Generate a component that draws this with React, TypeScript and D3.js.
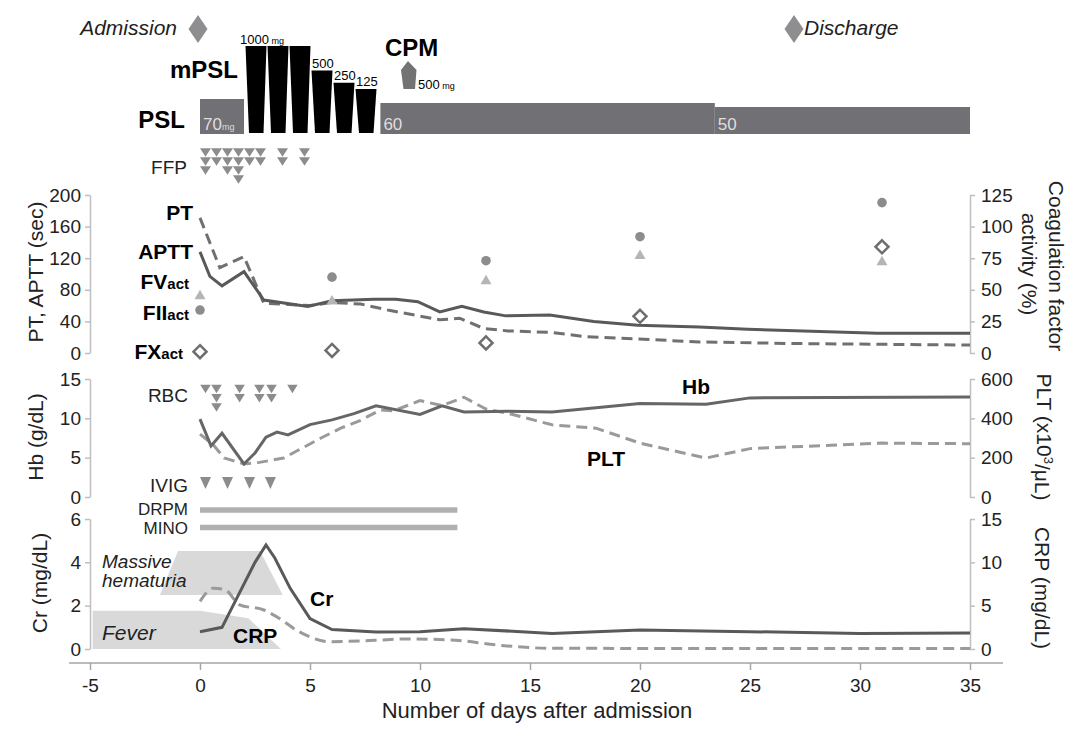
import * as d3 from "d3";
import { useEffect, useRef } from "react";

// treatment timeline (days after admission)
const admissionDay = 0;
const dischargeDay = 27;
const pslStart = [0, 8.2, 23.4];
const pslEnd = [2, 23.4, 35];
const pslDose = [70, 60, 50];
const mpslDays = [2, 3, 4, 5, 6, 7];
const mpslDose = [1000, 1000, 1000, 500, 250, 125];
const cpmDays = [9];
const cpmDose = [500];
const ffpDays = [0.25, 0.75, 1.25, 1.75, 2.25, 2.75, 3.75, 4.75];
const ffpUnits = [3, 2, 3, 4, 2, 2, 2, 2];
const rbcDays = [0.25, 0.75, 1.8, 2.7, 3.25, 4.2];
const rbcUnits = [1, 3, 2, 2, 2, 1];
const ivigDays = [0.25, 1.25, 2.25, 3.2];
const abxNames = ["DRPM", "MINO"];
const abxStart = [0, 0];
const abxEnd = [11.7, 11.7];

// coagulation
const ptDays = [0, 0.9, 2, 2.9, 5, 6, 7.3, 8.6, 10.9, 11.8, 12.9, 14, 16, 17.4, 19.7, 22.7, 27, 35];
const ptSec = [171, 108, 122, 63, 60, 64, 62, 54, 42, 44, 31, 28, 26, 21, 18, 14, 12, 10];
const apttDays = [0, 0.45, 1, 2, 2.9, 4.9, 6, 7.9, 8.9, 9.9, 10.9, 11.9, 12.9, 13.9, 15.9, 17.9, 19.9, 22.7, 24.9, 30.8, 35];
const apttSec = [128, 97, 85, 103, 67, 59, 66, 68, 68, 65, 52, 59, 52, 47, 48, 40, 35, 33, 30, 25, 25];
const factorDays = [0, 6, 13, 20, 31];
const fIIact = [34, 60, 73, 92, 119];
const fVact = [46, 42, 58, 78, 73];
const fXact = [1, 2, 8, 29, 84];

// blood counts
const hbDays = [0, 0.5, 1, 2, 2.5, 3, 3.5, 4, 5, 6, 7, 8, 10, 11, 12, 14, 16, 20, 23, 25, 35];
const hbVal = [9.9, 6.5, 8.1, 4.2, 5.6, 7.6, 8.25, 7.9, 9.2, 9.8, 10.6, 11.6, 10.5, 11.6, 10.8, 10.9, 10.8, 11.9, 11.8, 12.6, 12.7];
const pltDays = [0, 0.6, 1.1, 2, 2.7, 3.8, 4.5, 5.5, 6.4, 7.3, 8.2, 8.8, 10, 11, 12, 13, 14, 16, 18, 20, 23, 25, 31, 35];
const pltVal = [320, 266, 198, 168, 176, 198, 240, 300, 350, 390, 443, 438, 490, 465, 507, 447, 426, 367, 350, 274, 198, 246, 274, 271];

// renal / inflammation
const crDays = [0, 1, 1.8, 2.5, 3, 3.4, 4.1, 5, 6, 8, 10, 12, 16, 20, 30, 35];
const crVal = [0.8, 1.0, 2.6, 4.0, 4.8, 4.2, 2.8, 1.4, 0.9, 0.78, 0.8, 0.94, 0.72, 0.88, 0.72, 0.74];
const crpDays = [0, 0.6, 1.1, 1.8, 2.9, 3.5, 4.5, 5.9, 8, 9.3, 11.4, 13.5, 16, 35];
const crpVal = [5.5, 7.0, 6.9, 5.1, 4.5, 3.7, 2.0, 0.85, 1.0, 1.15, 1.05, 0.46, 0.08, 0.05];
const hematuriaShape = [[-1.0, 4.52], [2.73, 4.52], [3.76, 2.49], [-1.82, 2.49]];
const feverShape = [[-4.88, 1.77], [0, 1.77], [2.2, 1.42], [3.68, 0], [-4.88, 0]];

// ticks
const xTicks = [-5, 0, 5, 10, 15, 20, 25, 30, 35];
const ptTicks = [0, 40, 80, 120, 160, 200];
const factorTicks = [0, 25, 50, 75, 100, 125];
const hbTicks = [0, 5, 10, 15];
const pltTicks = [0, 200, 400, 600];
const crTicks = [0, 2, 4, 6];
const crpTicks = [0, 5, 10, 15];

const font = "'Liberation Sans', Arial, sans-serif";

const App = () => {
  const svgRef = useRef<SVGSVGElement>(null);

  useEffect(() => {
    const w = 1068;
    const h = 729;
    const svg = d3.select(svgRef.current);
    svg.selectAll("*").remove();
    svg.attr("width", w).attr("height", h).style("background", "#fff").style("font-family", font);

    const x = d3.scaleLinear().domain([-5, 35]).range([90, 970]);
    const yPT = d3.scaleLinear().domain([0, 200]).range([353, 195]);
    const yFac = d3.scaleLinear().domain([0, 125]).range([353, 195]);
    const yHb = d3.scaleLinear().domain([0, 15]).range([497, 379]);
    const yPlt = d3.scaleLinear().domain([0, 600]).range([497, 379]);
    const yCr = d3.scaleLinear().domain([0, 6]).range([649, 519]);
    const yCrp = d3.scaleLinear().domain([0, 15]).range([649, 519]);
    const yMpsl = d3.scaleLinear().domain([0, 1000]).range([95, 46]);
    const yPsl = d3.scaleLinear().domain([50, 70]).range([107, 99]);
    const base = 134;
    const plain = (d) => String(d);

    const text = (tx, ty, s, size, opts: any = {}) =>
      svg.append("text").attr("x", tx).attr("y", ty).text(s)
        .attr("font-size", size)
        .attr("font-weight", opts.bold ? "bold" : null)
        .attr("font-style", opts.italic ? "italic" : null)
        .attr("text-anchor", opts.anchor || "start")
        .attr("fill", opts.fill || "#000");

    const downTri = (cx, cy, tw, th) =>
      `M${cx - tw / 2},${cy - th / 2}L${cx + tw / 2},${cy - th / 2}L${cx},${cy + th / 2}Z`;

    // ---- axes ----
    const styleAxis = (g) => {
      g.attr("font-size", 19).attr("font-family", font);
      g.select(".domain").attr("stroke", "#bfbfbf").attr("stroke-width", 1.5);
      g.selectAll(".tick line").attr("stroke", "#bfbfbf").attr("stroke-width", 1.5);
      g.selectAll(".tick text").attr("fill", "#222");
    };
    const leftAxis = (scale, ticks) =>
      svg.append("g").attr("transform", `translate(${x(-5)},0)`)
        .call(d3.axisLeft(scale).tickValues(ticks).tickFormat(plain).tickSize(5).tickSizeOuter(0).tickPadding(4))
        .call(styleAxis);
    const rightAxis = (scale, ticks) =>
      svg.append("g").attr("transform", `translate(${x(35)},0)`)
        .call(d3.axisRight(scale).tickValues(ticks).tickFormat(plain).tickSize(5).tickSizeOuter(0).tickPadding(6))
        .call(styleAxis);
    leftAxis(yPT, ptTicks);
    rightAxis(yFac, factorTicks);
    leftAxis(yHb, hbTicks);
    rightAxis(yPlt, pltTicks);
    leftAxis(yCr, crTicks);
    rightAxis(yCrp, crpTicks);

    const xAxisY = 663;
    svg.append("line").attr("x1", x(-5.95)).attr("x2", x(36.5)).attr("y1", xAxisY).attr("y2", xAxisY)
      .attr("stroke", "#a6a6a6").attr("stroke-width", 1.5);
    svg.append("g").attr("transform", `translate(0,${xAxisY})`)
      .call(d3.axisBottom(x).tickValues(xTicks).tickFormat(plain).tickSize(7).tickSizeOuter(0).tickPadding(9))
      .call(styleAxis)
      .call((g) => g.select(".domain").remove())
      .call((g) => g.selectAll(".tick line").attr("stroke", "#a6a6a6"));

    text(537, 718, "Number of days after admission", 22, { anchor: "middle", fill: "#222" });

    const vTitle = (cx, cy, s, angle) =>
      svg.append("text").attr("transform", `translate(${cx},${cy}) rotate(${angle})`)
        .attr("text-anchor", "middle").attr("dy", "0.35em").attr("font-size", 21).attr("fill", "#222").text(s);
    vTitle(36, 272, "PT,  APTT (sec)", -90);
    vTitle(36, 437, "Hb (g/dL)", -90);
    vTitle(40, 583, "Cr (mg/dL)", -90);
    vTitle(1056, 266, "Coagulation factor", 90);
    vTitle(1029, 264, "activity (%)", 90);
    const pltTitle = vTitle(1044, 437, "PLT (x10", 90);
    pltTitle.append("tspan").attr("font-size", 13).attr("dy", "-0.6em").text("3");
    pltTitle.append("tspan").attr("dy", "0.45em").text("/μL)");
    vTitle(1042, 588, "CRP (mg/dL)", 90);

    // ---- treatment timeline ----
    const diamond = (cx, cy) => `M${cx},${cy - 14}L${cx + 9.5},${cy}L${cx},${cy + 14}L${cx - 9.5},${cy}Z`;
    svg.append("path").attr("d", diamond(x(admissionDay) - 2, 29)).attr("fill", "#8e8e90");
    svg.append("path").attr("d", diamond(x(dischargeDay), 29)).attr("fill", "#8e8e90");
    text(x(admissionDay) - 23, 35, "Admission", 21, { italic: true, anchor: "end", fill: "#222" });
    text(x(dischargeDay) + 10, 35, "Discharge", 21, { italic: true, fill: "#222" });

    text(238, 78, "mPSL", 24, { bold: true, anchor: "end" });
    text(185, 128, "PSL", 24, { bold: true, anchor: "end" });
    text(385, 56, "CPM", 24, { bold: true });

    pslDose.forEach((d, i) => {
      const x0 = x(pslStart[i]);
      const x1 = x(pslEnd[i]);
      svg.append("rect").attr("x", x0).attr("y", yPsl(d)).attr("width", x1 - x0).attr("height", base - yPsl(d))
        .attr("fill", "#717074");
      const t = text(x0 + 3, 130, String(d), 17, { fill: "#dedede" });
      if (i === 0) t.append("tspan").attr("font-size", 9).text("mg");
    });

    mpslDays.forEach((d, i) => {
      const top = yMpsl(mpslDose[i]);
      const x0 = x(d);
      const x1 = x(d + 1);
      svg.append("path")
        .attr("d", `M${x0 + 1.5},${top}L${x1 + 0.5},${top}L${x1 - 2.5},${base - 1}L${x0 + 5},${base - 1}Z`)
        .attr("fill", "#000");
      if (i === 0 || mpslDose[i] !== mpslDose[i - 1]) {
        const t = text(i === 0 ? x0 - 4 : x0 + 2, top - 2.5, String(mpslDose[i]), 13);
        if (i === 0) t.append("tspan").attr("font-size", 9).text(" mg");
      }
    });

    cpmDays.forEach((d, i) => {
      const cx = x(d + 0.5);
      svg.append("path")
        .attr("d", `M${cx - 1},61L${cx + 7.5},70L${cx + 6},89L${cx - 5.5},89L${cx - 8},70Z`)
        .attr("fill", "#737373");
      const t = text(cx + 9, 89, String(cpmDose[i]), 13);
      t.append("tspan").attr("font-size", 9).text(" mg");
    });

    text(187, 174, "FFP", 19, { anchor: "end", fill: "#222" });
    ffpDays.forEach((d, i) => {
      d3.range(ffpUnits[i]).forEach((k) => {
        svg.append("path").attr("d", downTri(x(d), 152.5 + k * 9, 11, 8.5)).attr("fill", "#8c8c8e");
      });
    });

    // ---- panel 1: coagulation ----
    const drawLine = (days, vals, y, color, dashed, curve = d3.curveLinear) => {
      const line = d3.line<number>().x((_, i) => x(days[i])).y((v) => y(v)).curve(curve);
      svg.append("path").datum(vals).attr("d", line).attr("fill", "none")
        .attr("stroke", color).attr("stroke-width", 3)
        .attr("stroke-dasharray", dashed ? "11,6" : null);
    };
    drawLine(ptDays, ptSec, yPT, "#707070", true);
    drawLine(apttDays, apttSec, yPT, "#595959", false);

    factorDays.forEach((d, i) => {
      svg.append("circle").attr("cx", x(d)).attr("cy", yFac(fIIact[i])).attr("r", 4.8).attr("fill", "#8c8c8e");
      svg.append("path").attr("transform", `translate(${x(d)},${yFac(fVact[i])})`)
        .attr("d", "M0,-5L5.5,4.5L-5.5,4.5Z").attr("fill", "#b5b5b5");
      svg.append("path").attr("transform", `translate(${x(d)},${yFac(fXact[i])})`)
        .attr("d", "M0,-6.5L6.5,0L0,6.5L-6.5,0Z").attr("fill", "#fff").attr("stroke", "#6e6e6e").attr("stroke-width", 2.5);
    });

    text(193, 220, "PT", 21, { bold: true, anchor: "end" });
    text(193, 259, "APTT", 21, { bold: true, anchor: "end" });
    const subLabel = (ty, main, endX) => {
      const t = text(endX, ty, main, 21, { bold: true, anchor: "end" });
      t.append("tspan").attr("font-size", 15).text("act");
    };
    subLabel(289, "FV", 189);
    subLabel(320, "FII", 189);
    subLabel(359, "FX", 183);

    // ---- panel 2: Hb / PLT ----
    text(188, 402, "RBC", 19, { anchor: "end", fill: "#222" });
    rbcDays.forEach((d, i) => {
      d3.range(rbcUnits[i]).forEach((k) => {
        svg.append("path").attr("d", downTri(x(d), 389 + k * 9.3, 10.5, 8.5)).attr("fill", "#8c8c8e");
      });
    });
    drawLine(pltDays, pltVal, yPlt, "#9a9a9a", true);
    drawLine(hbDays, hbVal, yHb, "#666666", false);
    text(682, 394, "Hb", 21, { bold: true });
    text(587, 466, "PLT", 21, { bold: true });

    text(188, 492, "IVIG", 19, { anchor: "end", fill: "#222" });
    ivigDays.forEach((d) => {
      svg.append("path").attr("d", downTri(x(d), 483, 11, 12)).attr("fill", "#8c8c8e");
    });

    abxNames.forEach((n, i) => {
      const ly = 510 + i * 17.5;
      svg.append("line").attr("x1", x(abxStart[i])).attr("x2", x(abxEnd[i])).attr("y1", ly).attr("y2", ly)
        .attr("stroke", "#b0b0b0").attr("stroke-width", 5.5);
      text(188, ly + (i === 0 ? 4.5 : 6.5), n, 17, { anchor: "end", fill: "#222" });
    });

    // ---- panel 3: Cr / CRP ----
    const area = d3.line<number[]>().x((p) => x(p[0])).y((p) => yCr(p[1]));
    svg.append("path").attr("d", area(hematuriaShape) + "Z").attr("fill", "#d9d9d9");
    svg.append("path").attr("d", area(feverShape) + "Z").attr("fill", "#d9d9d9");
    text(102, 568, "Massive", 19, { italic: true, fill: "#222" });
    text(102, 587, "hematuria", 19, { italic: true, fill: "#222" });
    text(102, 640, "Fever", 21, { italic: true, fill: "#222" });

    drawLine(crpDays, crpVal, yCrp, "#9a9a9a", true, d3.curveMonotoneX);
    drawLine(crDays, crVal, yCr, "#595959", false);
    text(310, 606, "Cr", 21, { bold: true });
    text(233, 643, "CRP", 21, { bold: true });
  }, []);

  return <svg ref={svgRef} style={{ position: "absolute", left: 0, top: 0 }}></svg>;
};

export default App;
